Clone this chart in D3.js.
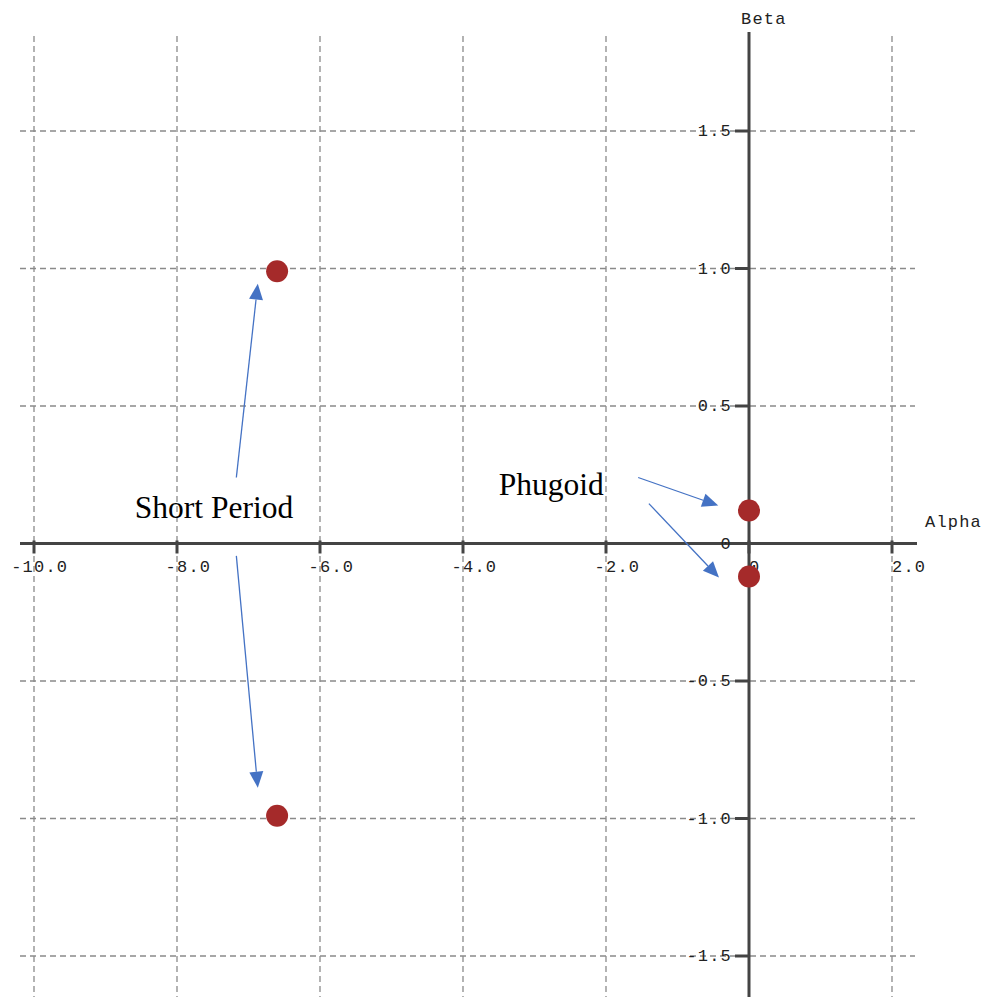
<!DOCTYPE html>
<html>
<head>
<meta charset="utf-8">
<script src="https://cdn.jsdelivr.net/npm/d3@7"></script>
<style>
  html, body { margin: 0; padding: 0; background: #fff; }
  svg { display: block; }
</style>
</head>
<body>
<svg id="chart" width="987" height="997"></svg>
<script>
// Eigenvalues of the longitudinal dynamics, plotted in the complex plane
const modes = ["Short Period", "Short Period", "Phugoid", "Phugoid"];
const alphaValues = [-6.6, -6.6, 0.0, 0.0];   // real part
const betaValues  = [0.99, -0.99, 0.12, -0.12]; // imaginary part

const xTicks = [-10, -8, -6, -4, -2, 0, 2];
const xTickLabels = ["-10.0", "-8.0", "-6.0", "-4.0", "-2.0", "0", "2.0"];
const yTicks = [-1.5, -1.0, -0.5, 0, 0.5, 1.0, 1.5];
const yTickLabels = ["-1.5", "-1.0", "-0.5", "0", "0.5", "1.0", "1.5"];

// Mode labels (left edge / baseline) and their pointer arrows, in data coordinates
const noteTexts = ["Short Period", "Phugoid"];
const noteAt = [[-8.59, 0.091], [-3.50, 0.178]];
const arrowFrom = [[-7.17, 0.24], [-7.17, -0.045], [-1.55, 0.24], [-1.40, 0.145]];
const arrowTo   = [[-6.87, 0.945], [-6.87, -0.888], [-0.43, 0.138], [-0.42, -0.124]];

const svg = d3.select("#chart");
const x = d3.scaleLinear().domain([-10, 2]).range([34, 892]);
const y = d3.scaleLinear().domain([-1.5, 1.5]).range([956, 131]);

const gridColor = "#8a8a8a";
const axisColor = "#444";
const labelColor = "#222";
const tickFont = "'Liberation Mono', 'Courier New', monospace";

// dashed grid
const grid = svg.append("g");
grid.selectAll("line.v").data(xTicks.filter(d => d !== 0)).join("line")
  .attr("x1", d => x(d)).attr("x2", d => x(d))
  .attr("y1", 36).attr("y2", 997)
  .attr("stroke", gridColor).attr("stroke-width", 1.3)
  .attr("stroke-dasharray", "6,4");
grid.selectAll("line.h").data(yTicks.filter(d => d !== 0)).join("line")
  .attr("x1", 20).attr("x2", 915)
  .attr("y1", d => y(d)).attr("y2", d => y(d))
  .attr("stroke", gridColor).attr("stroke-width", 1.3)
  .attr("stroke-dasharray", "6,4");

// axes through the origin
const axes = svg.append("g");
axes.append("line")
  .attr("x1", 20).attr("x2", 917).attr("y1", y(0)).attr("y2", y(0))
  .attr("stroke", axisColor).attr("stroke-width", 3);
axes.append("line")
  .attr("x1", x(0)).attr("x2", x(0)).attr("y1", 32).attr("y2", 997)
  .attr("stroke", axisColor).attr("stroke-width", 3);

// tick marks
axes.selectAll("line.xt").data(xTicks).join("line")
  .attr("x1", d => x(d)).attr("x2", d => x(d))
  .attr("y1", y(0) - 3).attr("y2", y(0) + 10)
  .attr("stroke", axisColor).attr("stroke-width", 3);
axes.selectAll("line.yt").data(yTicks).join("line")
  .attr("x1", x(0) - 14).attr("x2", x(0))
  .attr("y1", d => y(d)).attr("y2", d => y(d))
  .attr("stroke", axisColor).attr("stroke-width", 3);

// tick labels: units digit starts at the tick
const charW = 11.4;
axes.selectAll("text.xl").data(xTicks).join("text")
  .attr("x", (d, i) => {
    const s = xTickLabels[i];
    const intLen = s.split(".")[0].length;
    return x(d) - charW * (intLen - 1);
  })
  .attr("y", y(0) + 28)
  .attr("font-family", tickFont).attr("font-size", 17)
  .attr("letter-spacing", "1.2px").attr("fill", labelColor)
  .text((d, i) => xTickLabels[i]);
axes.selectAll("text.yl").data(yTicks).join("text")
  .attr("x", x(0) - 17)
  .attr("y", d => y(d) + 5)
  .attr("text-anchor", "end")
  .attr("font-family", tickFont).attr("font-size", 17)
  .attr("letter-spacing", "1.2px").attr("fill", labelColor)
  .text((d, i) => yTickLabels[i]);

// axis titles
svg.append("text").attr("x", 925).attr("y", 527)
  .attr("font-family", tickFont).attr("font-size", 17)
  .attr("letter-spacing", "1.2px").attr("fill", labelColor).text("Alpha");
svg.append("text").attr("x", 741).attr("y", 24)
  .attr("font-family", tickFont).attr("font-size", 17)
  .attr("letter-spacing", "1.2px").attr("fill", labelColor).text("Beta");

// pointer arrows
const arrowColor = "#4472c4";
const arrows = svg.append("g");
arrowFrom.forEach((f, i) => {
  const t = arrowTo[i];
  const x1 = x(f[0]), y1 = y(f[1]), x2 = x(t[0]), y2 = y(t[1]);
  const ang = Math.atan2(y2 - y1, x2 - x1);
  const len = 16, half = 7;
  const bx = x2 - len * Math.cos(ang), by = y2 - len * Math.sin(ang);
  arrows.append("line")
    .attr("x1", x1).attr("y1", y1).attr("x2", bx).attr("y2", by)
    .attr("stroke", arrowColor).attr("stroke-width", 1.3);
  const px = -Math.sin(ang) * half, py = Math.cos(ang) * half;
  arrows.append("polygon")
    .attr("points", [[x2, y2], [bx + px, by + py], [bx - px, by - py]].map(p => p.join(",")).join(" "))
    .attr("fill", arrowColor);
});

// mode labels
svg.selectAll("text.note").data(noteTexts).join("text")
  .attr("x", (d, i) => x(noteAt[i][0]))
  .attr("y", (d, i) => y(noteAt[i][1]))
  .attr("font-family", "'Liberation Serif', 'Times New Roman', serif")
  .attr("font-size", 31.5).attr("fill", "#000")
  .text(d => d);

// eigenvalue markers
svg.selectAll("circle.pt").data(alphaValues).join("circle")
  .attr("cx", d => x(d))
  .attr("cy", (d, i) => y(betaValues[i]))
  .attr("r", 11)
  .attr("fill", "#a52a2a");
</script>
</body>
</html>
